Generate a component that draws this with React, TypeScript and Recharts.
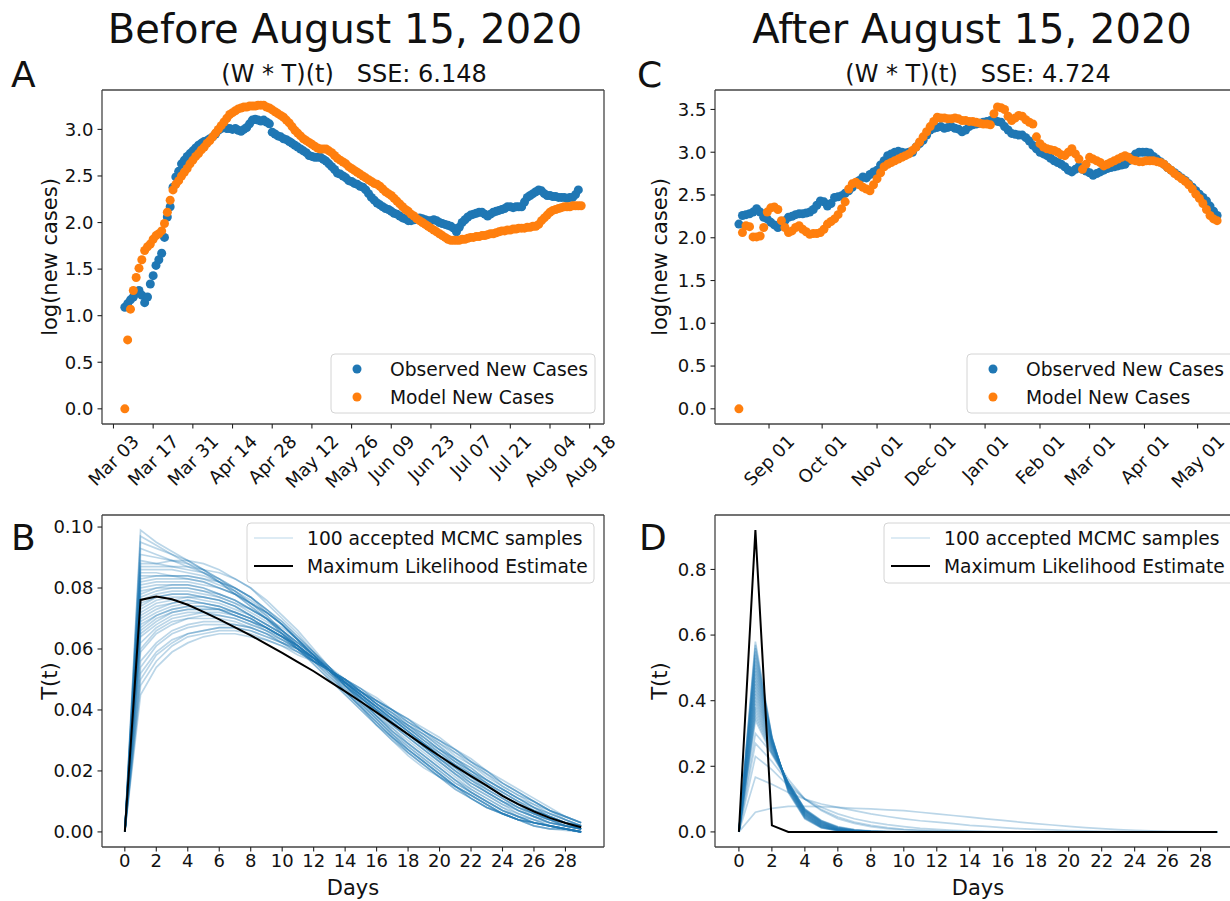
import React from "react";
import { ScatterChart, Scatter, LineChart, Line, XAxis, YAxis, ReferenceLine } from "recharts";

const BLUE = "#1f77b4";
const ORANGE = "#ff7f0e";
const FONT = "DejaVu Sans";
const AXIS = "#444";

// ---- Panel A: log(new cases), daily, day 0 = Mar 07 2020 ----
const aObserved = [
  1.09, 1.13, 1.17, 1.2, 1.24, 1.27, 1.22, 1.14, 1.2, 1.34,
  1.43, 1.54, 1.6, 1.67, 1.84, 2.06, 2.17, 2.38, 2.49, 2.55,
  2.63, 2.67, 2.71, 2.74, 2.77, 2.8, 2.83, 2.85, 2.87, 2.88,
  2.9, 2.92, 2.95, 2.99, 3.01, 3.02, 3.01, 3.01, 3.0, 3.01,
  2.99, 2.98, 3.0, 3.02, 3.06, 3.1, 3.11, 3.1, 3.09, 3.1,
  3.08, 3.06, 2.97, 2.95, 2.93, 2.92, 2.9, 2.89, 2.87, 2.85,
  2.83, 2.81, 2.79, 2.77, 2.75, 2.72, 2.71, 2.7, 2.7, 2.7,
  2.68, 2.66, 2.63, 2.6, 2.57, 2.53, 2.52, 2.5, 2.48, 2.45,
  2.44, 2.42, 2.41, 2.39, 2.38, 2.35, 2.31, 2.27, 2.24, 2.21,
  2.19, 2.17, 2.15, 2.14, 2.12, 2.1, 2.09, 2.07, 2.05, 2.04,
  2.02, 2.02, 2.03, 2.04, 2.05, 2.04, 2.03, 2.02, 2.02, 2.03,
  2.02, 2.0, 1.99, 1.98, 1.97, 1.96, 1.94, 1.9, 1.95, 2.0,
  2.03, 2.06, 2.08, 2.09, 2.1, 2.11, 2.11, 2.09, 2.07, 2.09,
  2.11, 2.12, 2.13, 2.14, 2.15, 2.17, 2.17, 2.16, 2.17, 2.17,
  2.17, 2.22, 2.27, 2.29, 2.31, 2.33, 2.35, 2.34, 2.31, 2.29,
  2.29, 2.28, 2.28, 2.27, 2.27, 2.27, 2.26, 2.27, 2.27, 2.3,
  2.35,
];
const aModel = [
  0.0, 0.74, 1.07, 1.27, 1.41, 1.51, 1.6, 1.7, 1.74, 1.77,
  1.82, 1.86, 1.88, 1.91, 1.99, 2.11, 2.24, 2.35, 2.41, 2.45,
  2.5, 2.54, 2.58, 2.63, 2.67, 2.71, 2.74, 2.78, 2.81, 2.85,
  2.88, 2.92, 2.96, 3.0, 3.04, 3.08, 3.12, 3.16, 3.18, 3.2,
  3.22, 3.23, 3.24, 3.24, 3.25, 3.25, 3.25, 3.26, 3.26, 3.26,
  3.24, 3.23, 3.21, 3.19, 3.17, 3.15, 3.13, 3.1, 3.07, 3.03,
  2.99, 2.96, 2.93, 2.9, 2.88, 2.86, 2.84, 2.82, 2.8, 2.79,
  2.79, 2.79, 2.77, 2.75, 2.72, 2.69, 2.67, 2.65, 2.63, 2.6,
  2.58, 2.56, 2.54, 2.52, 2.5, 2.48, 2.46, 2.44, 2.42, 2.41,
  2.39, 2.36, 2.33, 2.31, 2.29, 2.26, 2.23, 2.2, 2.17, 2.14,
  2.12, 2.09, 2.07, 2.04, 2.02, 2.0, 1.98, 1.96, 1.94, 1.92,
  1.9, 1.88, 1.86, 1.84, 1.82, 1.81, 1.81, 1.81, 1.81, 1.82,
  1.82, 1.83, 1.84, 1.84, 1.85, 1.85, 1.86, 1.86, 1.87, 1.88,
  1.88, 1.89, 1.9, 1.91, 1.91, 1.92, 1.92, 1.93, 1.93, 1.94,
  1.94, 1.94, 1.95, 1.95, 1.96, 1.96, 1.98, 2.02, 2.05, 2.08,
  2.11, 2.13, 2.14, 2.15, 2.16, 2.17, 2.17, 2.17, 2.18, 2.18,
  2.18, 2.18,
];
const aTickDays = [-4, 10, 24, 38, 52, 66, 80, 94, 108, 122, 136, 150, 164];
const aTickLabels = ["Mar 03", "Mar 17", "Mar 31", "Apr 14", "Apr 28", "May 12", "May 26", "Jun 09", "Jun 23", "Jul 07", "Jul 21", "Aug 04", "Aug 18"];
const aYTicks = [0, 0.5, 1, 1.5, 2, 2.5, 3];

// ---- Panel C: log(new cases), every 2 days, day 0 = Aug 15 2020 ----
const cObserved = [
  2.16, 2.26, 2.27, 2.28, 2.3, 2.34, 2.3, 2.24, 2.22, 2.18,
  2.15, 2.12, 2.14, 2.2, 2.24, 2.25, 2.27, 2.28, 2.28, 2.29,
  2.3, 2.33, 2.38, 2.43, 2.42, 2.37, 2.4, 2.47, 2.48, 2.49,
  2.52, 2.55, 2.59, 2.63, 2.67, 2.71, 2.7, 2.74, 2.77, 2.79,
  2.85, 2.9, 2.96, 2.98, 3.0, 3.01, 3.0, 2.99, 3.0, 3.0,
  3.06, 3.1, 3.14, 3.2, 3.26, 3.28, 3.29, 3.3, 3.28, 3.29,
  3.3, 3.28, 3.27, 3.24, 3.26, 3.3, 3.32, 3.33, 3.34, 3.35,
  3.36, 3.37, 3.38, 3.36, 3.35, 3.3, 3.26, 3.22, 3.21, 3.2,
  3.2, 3.17, 3.13, 3.08, 3.04, 3.0, 2.98, 2.96, 2.93, 2.9,
  2.88, 2.86, 2.83, 2.79, 2.77, 2.8, 2.83, 2.8, 2.78, 2.76,
  2.73, 2.75, 2.77, 2.79, 2.81, 2.82, 2.83, 2.84, 2.85, 2.86,
  2.9, 2.94, 2.98, 3.0, 3.0, 3.0, 2.99, 2.95, 2.92, 2.89,
  2.86, 2.82, 2.79, 2.76, 2.73, 2.7, 2.67, 2.63, 2.59, 2.55,
  2.51, 2.47, 2.43, 2.37, 2.31, 2.26,
];
const cModel = [
  0.0, 2.06, 2.14, 2.13, 2.01, 2.01, 2.02, 2.12, 2.3, 2.35,
  2.36, 2.33, 2.2, 2.12, 2.06, 2.08, 2.12, 2.14, 2.1, 2.07,
  2.04, 2.05, 2.05, 2.06, 2.1, 2.16, 2.19, 2.22, 2.27, 2.34,
  2.42, 2.57, 2.63, 2.65, 2.62, 2.59, 2.57, 2.55, 2.62, 2.69,
  2.76, 2.83, 2.86, 2.88, 2.9, 2.92, 2.94, 2.96, 2.98, 3.02,
  3.06, 3.12, 3.18, 3.24, 3.3, 3.36, 3.41, 3.4, 3.4, 3.39,
  3.39, 3.4, 3.39, 3.37, 3.37, 3.36, 3.36, 3.35, 3.34, 3.33,
  3.33, 3.32, 3.45, 3.53, 3.52, 3.5, 3.42, 3.37, 3.4, 3.43,
  3.42, 3.38, 3.35, 3.33, 3.18, 3.1, 3.06, 3.04, 3.03, 3.02,
  3.0, 2.97, 2.96, 3.0, 3.04, 2.98, 2.92, 2.8, 2.86, 2.94,
  2.92, 2.9, 2.88, 2.84, 2.86, 2.88, 2.9, 2.92, 2.94, 2.96,
  2.94, 2.91, 2.9, 2.89, 2.89, 2.9, 2.9, 2.9, 2.89, 2.88,
  2.86, 2.82, 2.79, 2.75, 2.72, 2.69, 2.66, 2.62, 2.57, 2.51,
  2.46, 2.4, 2.33, 2.26, 2.22, 2.2,
];
const cStep = 2;
const cTickDays = [17, 47, 78, 108, 139, 170, 198, 229, 259];
const cTickLabels = ["Sep 01", "Oct 01", "Nov 01", "Dec 01", "Jan 01", "Feb 01", "Mar 01", "Apr 01", "May 01"];
const cYTicks = [0, 0.5, 1, 1.5, 2, 2.5, 3, 3.5];

// ---- Panels B / D: kernel T(t) over 30 days ----
const days = [0, 1, 2, 3, 4, 5, 6, 7, 8, 9, 10, 11, 12, 13, 14, 15, 16, 17, 18, 19, 20, 21, 22, 23, 24, 25, 26, 27, 28, 29];
const dayTicks = [0, 2, 4, 6, 8, 10, 12, 14, 16, 18, 20, 22, 24, 26, 28];

const bMle = [
  0, 0.0761, 0.0772, 0.0763, 0.0745, 0.0722, 0.0697, 0.0671, 0.0645, 0.0616,
  0.0587, 0.0557, 0.0527, 0.0494, 0.0461, 0.0427, 0.0392, 0.0356, 0.032, 0.0284,
  0.0249, 0.0215, 0.0183, 0.0152, 0.0118, 0.0091, 0.0067, 0.0046, 0.0029, 0.0015,
];
// samples in units of 1e-3
const bSamples = [
  [0, 99, 95, 92, 89, 86, 82, 78, 74, 70, 65, 60, 55, 50, 45, 40, 35, 30, 26, 22, 18, 14, 11, 8, 6, 4, 2, 1, 0.5, 0],
  [0, 97, 94, 91, 88, 85, 82, 78, 74, 70, 65, 60, 55, 50, 45, 40, 35, 31, 26, 22, 18, 15, 11, 8, 6, 4, 3, 2, 1, 0],
  [0, 95, 93, 91, 89, 86, 83, 79, 75, 71, 66, 61, 56, 51, 46, 41, 36, 31, 27, 23, 19, 15, 12, 9, 6, 4, 3, 2, 1, 0],
  [0, 93, 91, 89, 87, 85, 82, 79, 75, 71, 66, 61, 56, 51, 46, 41, 36, 31, 27, 23, 19, 15, 12, 9, 6, 4, 3, 2, 1, 0],
  [0, 91, 90, 89, 88, 86, 83, 80, 77, 72, 68, 63, 57, 52, 46, 41, 36, 31, 26, 22, 18, 15, 11, 8, 6, 4, 2, 1, 1, 0],
  [0, 89, 88, 87, 86, 85, 83, 80, 77, 73, 68, 63, 58, 52, 47, 42, 37, 32, 27, 23, 19, 15, 12, 9, 6, 4, 3, 2, 1, 0],
  [0, 88, 88, 89, 89, 88, 86, 83, 80, 75, 70, 65, 59, 53, 46, 41, 35, 30, 25, 21, 18, 14, 11, 8, 6, 4, 2, 1, 1, 0],
  [0, 87, 87, 87, 87, 86, 85, 83, 80, 76, 71, 66, 60, 54, 48, 42, 37, 32, 27, 23, 19, 15, 12, 9, 6, 4, 3, 2, 1, 0],
  [0, 86, 86, 86, 85, 84, 82, 80, 77, 73, 69, 64, 59, 54, 48, 43, 38, 33, 29, 25, 21, 17, 13, 10, 7, 5, 3, 2, 1, 0],
  [0, 85, 85, 84, 83, 82, 80, 78, 75, 72, 68, 63, 58, 53, 47, 42, 37, 32, 28, 24, 20, 16, 13, 10, 7, 5, 3, 2, 1, 0],
  [0, 84, 84, 84, 84, 83, 81, 79, 76, 72, 68, 63, 58, 53, 48, 43, 38, 33, 29, 25, 21, 17, 13, 10, 7, 5, 3, 2, 1, 0],
  [0, 83, 84, 84, 84, 83, 82, 80, 77, 73, 69, 64, 59, 54, 48, 43, 38, 33, 28, 24, 20, 16, 13, 10, 7, 5, 3, 2, 1, 0],
  [0, 82, 83, 83, 83, 82, 80, 78, 75, 72, 68, 63, 59, 54, 49, 44, 39, 34, 30, 26, 22, 18, 14, 11, 8, 6, 4, 2, 1, 0],
  [0, 81, 82, 82, 82, 81, 80, 78, 75, 72, 68, 63, 58, 53, 48, 43, 38, 34, 29, 25, 21, 17, 14, 11, 8, 5, 4, 2, 1, 0],
  [0, 80, 81, 81, 81, 80, 78, 76, 73, 70, 67, 63, 58, 54, 49, 44, 40, 35, 31, 27, 23, 19, 15, 12, 9, 6, 4, 3, 2, 1],
  [0, 79, 80, 80, 80, 79, 77, 75, 73, 70, 66, 62, 58, 53, 48, 44, 39, 35, 31, 27, 23, 19, 15, 12, 9, 7, 5, 3, 2, 1],
  [0, 78, 80, 81, 81, 80, 78, 76, 73, 70, 66, 62, 58, 53, 49, 44, 40, 36, 32, 28, 24, 20, 16, 13, 10, 7, 5, 3, 2, 1],
  [0, 77, 79, 80, 80, 79, 78, 76, 73, 70, 66, 62, 58, 53, 48, 44, 40, 35, 31, 27, 23, 19, 16, 13, 10, 7, 5, 3, 2, 1],
  [0, 76, 78, 79, 79, 78, 77, 75, 72, 69, 66, 62, 58, 53, 49, 45, 40, 36, 32, 28, 24, 20, 17, 13, 10, 8, 5, 4, 2, 1],
  [0, 75, 77, 78, 78, 77, 76, 74, 71, 68, 65, 61, 57, 53, 48, 44, 40, 36, 32, 28, 24, 20, 16, 13, 10, 7, 5, 3, 2, 1],
  [0, 74, 77, 78, 78, 77, 76, 74, 71, 68, 65, 61, 57, 53, 49, 45, 41, 37, 33, 29, 25, 21, 17, 14, 11, 8, 6, 4, 2, 1],
  [0, 73, 76, 77, 77, 77, 76, 74, 71, 68, 65, 61, 57, 53, 49, 45, 41, 36, 32, 28, 24, 21, 17, 14, 11, 8, 6, 4, 2, 1],
  [0, 72, 75, 76, 77, 76, 75, 73, 71, 68, 65, 61, 57, 53, 49, 45, 41, 37, 33, 29, 25, 21, 18, 14, 11, 8, 6, 4, 2, 1],
  [0, 71, 74, 75, 76, 75, 74, 72, 70, 67, 64, 60, 56, 52, 48, 44, 40, 37, 33, 29, 25, 22, 18, 15, 12, 9, 6, 4, 3, 1],
  [0, 70, 73, 75, 76, 75, 74, 72, 70, 67, 64, 61, 57, 53, 49, 45, 41, 37, 33, 29, 25, 22, 18, 15, 12, 9, 6, 4, 3, 1],
  [0, 69, 72, 74, 75, 75, 74, 72, 70, 67, 64, 61, 57, 53, 49, 45, 41, 37, 33, 29, 26, 22, 19, 15, 12, 9, 7, 5, 3, 1],
  [0, 68, 71, 73, 74, 74, 73, 72, 70, 67, 64, 61, 57, 53, 49, 45, 41, 37, 34, 30, 26, 22, 19, 16, 12, 9, 7, 5, 3, 1],
  [0, 67, 71, 73, 74, 74, 73, 71, 69, 67, 64, 60, 57, 53, 49, 45, 41, 38, 34, 30, 26, 23, 19, 16, 13, 10, 7, 5, 3, 2],
  [0, 66, 70, 72, 73, 73, 73, 71, 69, 67, 64, 60, 57, 53, 49, 46, 42, 38, 34, 30, 27, 23, 20, 16, 13, 10, 7, 5, 3, 2],
  [0, 65, 69, 72, 73, 73, 73, 71, 69, 67, 64, 61, 57, 54, 50, 46, 42, 38, 34, 31, 27, 23, 20, 16, 13, 10, 8, 5, 3, 2],
  [0, 64, 68, 71, 72, 72, 72, 71, 69, 66, 64, 61, 57, 53, 50, 46, 42, 38, 35, 31, 27, 24, 20, 17, 14, 11, 8, 5, 3, 2],
  [0, 62, 67, 70, 71, 72, 71, 70, 68, 66, 63, 60, 57, 53, 49, 46, 42, 38, 35, 31, 27, 24, 20, 17, 14, 11, 8, 6, 4, 2],
  [0, 60, 66, 69, 70, 71, 71, 70, 68, 66, 63, 60, 57, 53, 50, 46, 42, 39, 35, 32, 28, 24, 21, 17, 14, 11, 8, 6, 4, 2],
  [0, 59, 65, 68, 70, 70, 70, 69, 67, 65, 63, 60, 56, 53, 49, 46, 42, 39, 35, 32, 28, 24, 21, 17, 14, 11, 9, 6, 4, 2],
  [0, 56, 62, 66, 68, 69, 69, 68, 67, 65, 62, 60, 56, 53, 50, 46, 43, 39, 36, 32, 29, 25, 22, 18, 15, 12, 9, 7, 4, 2],
  [0, 54, 61, 65, 67, 68, 68, 68, 67, 65, 62, 60, 56, 53, 50, 46, 43, 40, 36, 33, 29, 26, 22, 19, 15, 12, 10, 7, 5, 3],
  [0, 52, 59, 63, 65, 66, 67, 67, 66, 64, 62, 59, 56, 53, 50, 46, 43, 40, 36, 33, 30, 26, 23, 19, 16, 13, 10, 7, 5, 3],
  [0, 50, 58, 62, 65, 66, 67, 67, 66, 64, 62, 59, 56, 53, 50, 47, 43, 40, 37, 33, 30, 27, 23, 20, 16, 13, 10, 7, 5, 3],
  [0, 48, 56, 61, 64, 65, 66, 66, 65, 63, 61, 59, 56, 53, 50, 47, 43, 40, 37, 33, 30, 27, 23, 20, 16, 13, 10, 7, 5, 3],
  [0, 45, 54, 59, 62, 64, 65, 65, 64, 63, 61, 58, 56, 53, 50, 47, 44, 40, 37, 34, 31, 27, 24, 20, 17, 14, 11, 8, 5, 3],
];

const dMle = [0, 0.92, 0.02, 0, 0, 0, 0, 0, 0, 0, 0, 0, 0, 0, 0, 0, 0, 0, 0, 0, 0, 0, 0, 0, 0, 0, 0, 0, 0, 0];
const dSamples = [
  [0, 580, 290, 120, 40, 12, 4, 1, 0, 0, 0, 0, 0, 0, 0, 0, 0, 0, 0, 0, 0, 0, 0, 0, 0, 0, 0, 0, 0, 0],
  [0, 570, 289, 122, 41, 13, 4, 1, 0, 0, 0, 0, 0, 0, 0, 0, 0, 0, 0, 0, 0, 0, 0, 0, 0, 0, 0, 0, 0, 0],
  [0, 560, 288, 125, 43, 14, 4, 1, 0, 0, 0, 0, 0, 0, 0, 0, 0, 0, 0, 0, 0, 0, 0, 0, 0, 0, 0, 0, 0, 0],
  [0, 550, 286, 126, 44, 14, 5, 1, 0, 0, 0, 0, 0, 0, 0, 0, 0, 0, 0, 0, 0, 0, 0, 0, 0, 0, 0, 0, 0, 0],
  [0, 540, 285, 128, 46, 15, 5, 1, 0, 0, 0, 0, 0, 0, 0, 0, 0, 0, 0, 0, 0, 0, 0, 0, 0, 0, 0, 0, 0, 0],
  [0, 530, 284, 130, 47, 16, 5, 1, 0, 0, 0, 0, 0, 0, 0, 0, 0, 0, 0, 0, 0, 0, 0, 0, 0, 0, 0, 0, 0, 0],
  [0, 520, 282, 132, 49, 17, 5, 2, 0, 0, 0, 0, 0, 0, 0, 0, 0, 0, 0, 0, 0, 0, 0, 0, 0, 0, 0, 0, 0, 0],
  [0, 510, 280, 133, 50, 18, 6, 2, 0, 0, 0, 0, 0, 0, 0, 0, 0, 0, 0, 0, 0, 0, 0, 0, 0, 0, 0, 0, 0, 0],
  [0, 500, 278, 135, 52, 19, 6, 2, 0, 0, 0, 0, 0, 0, 0, 0, 0, 0, 0, 0, 0, 0, 0, 0, 0, 0, 0, 0, 0, 0],
  [0, 490, 276, 136, 53, 20, 6, 2, 0, 0, 0, 0, 0, 0, 0, 0, 0, 0, 0, 0, 0, 0, 0, 0, 0, 0, 0, 0, 0, 0],
  [0, 480, 274, 138, 54, 21, 7, 2, 0, 0, 0, 0, 0, 0, 0, 0, 0, 0, 0, 0, 0, 0, 0, 0, 0, 0, 0, 0, 0, 0],
  [0, 470, 272, 139, 55, 22, 7, 2, 1, 0, 0, 0, 0, 0, 0, 0, 0, 0, 0, 0, 0, 0, 0, 0, 0, 0, 0, 0, 0, 0],
  [0, 460, 270, 140, 57, 23, 8, 3, 1, 0, 0, 0, 0, 0, 0, 0, 0, 0, 0, 0, 0, 0, 0, 0, 0, 0, 0, 0, 0, 0],
  [0, 450, 268, 141, 58, 24, 8, 3, 1, 0, 0, 0, 0, 0, 0, 0, 0, 0, 0, 0, 0, 0, 0, 0, 0, 0, 0, 0, 0, 0],
  [0, 440, 266, 142, 59, 25, 9, 3, 1, 0, 0, 0, 0, 0, 0, 0, 0, 0, 0, 0, 0, 0, 0, 0, 0, 0, 0, 0, 0, 0],
  [0, 430, 264, 143, 60, 26, 9, 3, 1, 0, 0, 0, 0, 0, 0, 0, 0, 0, 0, 0, 0, 0, 0, 0, 0, 0, 0, 0, 0, 0],
  [0, 420, 262, 145, 62, 27, 10, 3, 1, 0, 0, 0, 0, 0, 0, 0, 0, 0, 0, 0, 0, 0, 0, 0, 0, 0, 0, 0, 0, 0],
  [0, 410, 259, 145, 63, 28, 10, 4, 1, 0, 0, 0, 0, 0, 0, 0, 0, 0, 0, 0, 0, 0, 0, 0, 0, 0, 0, 0, 0, 0],
  [0, 400, 256, 146, 64, 29, 11, 4, 1, 0, 0, 0, 0, 0, 0, 0, 0, 0, 0, 0, 0, 0, 0, 0, 0, 0, 0, 0, 0, 0],
  [0, 390, 253, 147, 65, 30, 12, 4, 1, 0, 0, 0, 0, 0, 0, 0, 0, 0, 0, 0, 0, 0, 0, 0, 0, 0, 0, 0, 0, 0],
  [0, 380, 250, 148, 66, 31, 13, 5, 2, 0, 0, 0, 0, 0, 0, 0, 0, 0, 0, 0, 0, 0, 0, 0, 0, 0, 0, 0, 0, 0],
  [0, 370, 247, 149, 67, 32, 13, 5, 2, 1, 0, 0, 0, 0, 0, 0, 0, 0, 0, 0, 0, 0, 0, 0, 0, 0, 0, 0, 0, 0],
  [0, 360, 244, 150, 68, 33, 14, 6, 2, 1, 0, 0, 0, 0, 0, 0, 0, 0, 0, 0, 0, 0, 0, 0, 0, 0, 0, 0, 0, 0],
  [0, 350, 240, 150, 69, 34, 15, 6, 2, 1, 0, 0, 0, 0, 0, 0, 0, 0, 0, 0, 0, 0, 0, 0, 0, 0, 0, 0, 0, 0],
  [0, 340, 236, 150, 70, 35, 16, 7, 3, 1, 0, 0, 0, 0, 0, 0, 0, 0, 0, 0, 0, 0, 0, 0, 0, 0, 0, 0, 0, 0],
  [0, 300, 240, 160, 100, 65, 40, 26, 16, 10, 6, 4, 2, 1, 0, 0, 0, 0, 0, 0, 0, 0, 0, 0, 0, 0, 0, 0, 0, 0],
  [0, 270, 215, 150, 100, 68, 45, 30, 20, 13, 8, 5, 3, 2, 1, 0, 0, 0, 0, 0, 0, 0, 0, 0, 0, 0, 0, 0, 0, 0],
  [0, 230, 190, 140, 100, 75, 55, 40, 30, 22, 16, 11, 8, 5, 3, 2, 1, 0, 0, 0, 0, 0, 0, 0, 0, 0, 0, 0, 0, 0],
  [0, 167, 145, 120, 100, 85, 75, 65, 55, 47, 40, 34, 30, 25, 20, 17, 13, 10, 8, 6, 4, 3, 2, 1, 0, 0, 0, 0, 0, 0],
  [0, 60, 72, 78, 78, 77, 75, 72, 70, 67, 65, 60, 55, 50, 45, 40, 35, 30, 25, 21, 17, 13, 10, 7, 5, 3, 2, 1, 0, 0],
];

const aPts = (vals: number[], step: number) => vals.map((v, i) => ({ x: i * step, y: v }));
const kernelRows = (mle: number[], samples: number[][]) =>
  days.map((t, i) => {
    const row: Record<string, number> = { t, mle: mle[i] };
    samples.forEach((s, k) => {
      row[`s${k}`] = s[i] / 1000;
    });
    return row;
  });

const A_X: [number, number] = [-8.05, 169.05];
const A_Y: [number, number] = [-0.163, 3.423];
const C_X: [number, number] = [-13.5, 283.5];
const C_Y: [number, number] = [-0.1775, 3.7275];
const K_X: [number, number] = [-1.45, 30.45];
const B_Y: [number, number] = [-0.00495, 0.10395];
const D_Y: [number, number] = [-0.046, 0.966];

const TICK_FS = 18;
const tickFont = { fontSize: TICK_FS, fill: "#111", fontFamily: FONT };
const axisLine = { stroke: AXIS, strokeWidth: 1.3 };
const tickLine = { stroke: "#222", strokeWidth: 1.1 };

let ctx: CanvasRenderingContext2D | null = null;
function textWidth(s: string, fs: number) {
  if (!ctx && typeof document !== "undefined") ctx = document.createElement("canvas").getContext("2d");
  if (!ctx) return s.length * fs * 0.6;
  ctx.font = `${fs}px "${FONT}"`;
  return ctx.measureText(s).width;
}

// matplotlib-style rotation=45, ha=center
function angledTick(tickDays: number[], labels: string[]) {
  return (props: any) => {
    const { x, y, payload } = props;
    const label = labels[tickDays.indexOf(payload.value)] ?? "";
    const fs = TICK_FS;
    const w = textWidth(label, fs);
    const cy = y + (0.7071 * (w + fs * 0.73)) / 2;
    return (
      <text x={x} y={cy} textAnchor="middle" dominantBaseline="central" fontSize={fs} fontFamily={FONT} fill="#111" transform={`rotate(-45 ${x} ${cy})`}>
        {label}
      </text>
    );
  };
}

const dot = (color: string) => (p: any) => <circle cx={p.cx} cy={p.cy} r={4.5} fill={color} />;

function ScatterPanel(props: {
  left: number; width: number; yWidth: number; right: number;
  obs: number[]; model: number[]; step: number;
  xDomain: [number, number]; yDomain: [number, number];
  tickDays: number[]; tickLabels: string[]; yTicks: number[];
}) {
  const { left, width, yWidth, right, obs, model, step, xDomain, yDomain, tickDays, tickLabels, yTicks } = props;
  return (
    <div style={{ position: "absolute", left, top: 0 }}>
      <ScatterChart width={width} height={504} margin={{ top: 90, right, bottom: 0, left: 0 }}>
        <XAxis type="number" dataKey="x" domain={xDomain} ticks={tickDays} interval={0} allowDataOverflow
          height={80} tickSize={4.5} tickMargin={5} axisLine={axisLine} tickLine={tickLine}
          tick={angledTick(tickDays, tickLabels)} />
        <YAxis type="number" dataKey="y" domain={yDomain} ticks={yTicks} interval={0} allowDataOverflow
          width={yWidth} tickSize={4.5} tickMargin={4} axisLine={axisLine} tickLine={tickLine}
          tick={tickFont} tickFormatter={(v: number) => v.toFixed(1)} />
        <ReferenceLine y={yDomain[1]} stroke={AXIS} strokeWidth={1.3} />
        <ReferenceLine x={xDomain[1]} stroke={AXIS} strokeWidth={1.3} />
        <Scatter data={aPts(obs, step)} fill={BLUE} shape={dot(BLUE)} isAnimationActive={false} />
        <Scatter data={aPts(model, step)} fill={ORANGE} shape={dot(ORANGE)} isAnimationActive={false} />
      </ScatterChart>
    </div>
  );
}

function KernelPanel(props: {
  left: number; width: number; yWidth: number; right: number;
  mle: number[]; samples: number[][]; yDomain: [number, number]; yTicks: number[]; digits: number; opacity: number;
}) {
  const { left, width, yWidth, right, mle, samples, yDomain, yTicks, digits, opacity } = props;
  const rows = kernelRows(mle, samples);
  return (
    <div style={{ position: "absolute", left, top: 500 }}>
      <LineChart width={width} height={397} data={rows} margin={{ top: 15, right, bottom: 0, left: 0 }}>
        <XAxis type="number" dataKey="t" domain={K_X} ticks={dayTicks} interval={0} allowDataOverflow
          height={50} tickSize={4.5} tickMargin={3} axisLine={axisLine} tickLine={tickLine} tick={tickFont} />
        <YAxis type="number" domain={yDomain} ticks={yTicks} interval={0} allowDataOverflow
          width={yWidth} tickSize={4.5} tickMargin={4} axisLine={axisLine} tickLine={tickLine}
          tick={tickFont} tickFormatter={(v: number) => v.toFixed(digits)} />
        <ReferenceLine y={yDomain[1]} stroke={AXIS} strokeWidth={1.3} />
        <ReferenceLine x={K_X[1]} stroke={AXIS} strokeWidth={1.3} />
        {samples.map((_, k) => (
          <Line key={k} type="linear" dataKey={`s${k}`} stroke={BLUE} strokeOpacity={opacity} strokeWidth={1.7}
            dot={false} activeDot={false} isAnimationActive={false} />
        ))}
        <Line type="linear" dataKey="mle" stroke="#000" strokeWidth={2} dot={false} activeDot={false} isAnimationActive={false} />
      </LineChart>
    </div>
  );
}

const txt = { fontFamily: FONT, fill: "#111" } as const;
const LEG_FS = 18.7;

function ScatterLegend({ x, w }: { x: number; w: number }) {
  return (
    <g>
      <rect x={x} y={354} width={w} height={59} rx={4} fill="#fff" fillOpacity={0.8} stroke="#d4d4d4" />
      <circle cx={x + 26} cy={369} r={4.5} fill={BLUE} />
      <circle cx={x + 26} cy={397} r={4.5} fill={ORANGE} />
      <text x={x + 59} y={375.5} fontSize={LEG_FS} {...txt}>Observed New Cases</text>
      <text x={x + 59} y={403.5} fontSize={LEG_FS} {...txt}>Model New Cases</text>
    </g>
  );
}

function KernelLegend({ x, w }: { x: number; w: number }) {
  return (
    <g>
      <rect x={x} y={523} width={w} height={60} rx={4} fill="#fff" fillOpacity={0.8} stroke="#d4d4d4" />
      <line x1={x + 7} x2={x + 46} y1={538} y2={538} stroke={BLUE} strokeOpacity={0.2} strokeWidth={1.5} />
      <line x1={x + 7} x2={x + 46} y1={566} y2={566} stroke="#000" strokeWidth={2} />
      <text x={x + 60} y={544.5} fontSize={LEG_FS} {...txt}>100 accepted MCMC samples</text>
      <text x={x + 60} y={572.5} fontSize={LEG_FS} {...txt}>Maximum Likelihood Estimate</text>
    </g>
  );
}

export default function App() {
  return (
    <div style={{ position: "absolute", left: 0, top: 0, width: 1230, height: 901, overflow: "hidden", background: "#fff" }}>
      <ScatterPanel left={0} width={620} yWidth={102} right={16} obs={aObserved} model={aModel} step={1}
        xDomain={A_X} yDomain={A_Y} tickDays={aTickDays} tickLabels={aTickLabels} yTicks={aYTicks} />
      <ScatterPanel left={640} width={606} yWidth={75} right={5} obs={cObserved} model={cModel} step={cStep}
        xDomain={C_X} yDomain={C_Y} tickDays={cTickDays} tickLabels={cTickLabels} yTicks={cYTicks} />
      <KernelPanel left={0} width={620} yWidth={102} right={16} mle={bMle} samples={bSamples}
        yDomain={B_Y} yTicks={[0, 0.02, 0.04, 0.06, 0.08, 0.1]} digits={2} opacity={0.3} />
      <KernelPanel left={640} width={606} yWidth={75} right={5} mle={dMle} samples={dSamples}
        yDomain={D_Y} yTicks={[0, 0.2, 0.4, 0.6, 0.8]} digits={1} opacity={0.3} />

      <svg width={1230} height={901} style={{ position: "absolute", left: 0, top: 0, pointerEvents: "none" }}>
        <text x={345} y={43} fontSize={40} textAnchor="middle" {...txt}>Before August 15, 2020</text>
        <text x={972} y={43} fontSize={40} textAnchor="middle" {...txt}>After August 15, 2020</text>
        <text x={11} y={87} fontSize={36} {...txt}>A</text>
        <text x={11} y={550} fontSize={36} {...txt}>B</text>
        <text x={637} y={87} fontSize={36} {...txt}>C</text>
        <text x={639} y={550} fontSize={36} {...txt}>D</text>
        <text x={354} y={82} fontSize={24} textAnchor="middle" style={{ whiteSpace: "pre" }} {...txt}>{"(W * T)(t)   SSE: 6.148"}</text>
        <text x={978} y={82} fontSize={24} textAnchor="middle" style={{ whiteSpace: "pre" }} {...txt}>{"(W * T)(t)   SSE: 4.724"}</text>
        <text x={57} y={257} fontSize={21} textAnchor="middle" transform="rotate(-90 57 257)" {...txt}>log(new cases)</text>
        <text x={667} y={257} fontSize={21} textAnchor="middle" transform="rotate(-90 667 257)" {...txt}>log(new cases)</text>
        <text x={57} y={681} fontSize={21} textAnchor="middle" transform="rotate(-90 57 681)" {...txt}>T(t)</text>
        <text x={667} y={681} fontSize={21} textAnchor="middle" transform="rotate(-90 667 681)" {...txt}>T(t)</text>
        <text x={353} y={895} fontSize={21} textAnchor="middle" {...txt}>Days</text>
        <text x={978} y={895} fontSize={21} textAnchor="middle" {...txt}>Days</text>
        <ScatterLegend x={331} w={264} />
        <ScatterLegend x={967} w={280} />
        <KernelLegend x={247} w={347} />
        <KernelLegend x={884} w={360} />
      </svg>
    </div>
  );
}
